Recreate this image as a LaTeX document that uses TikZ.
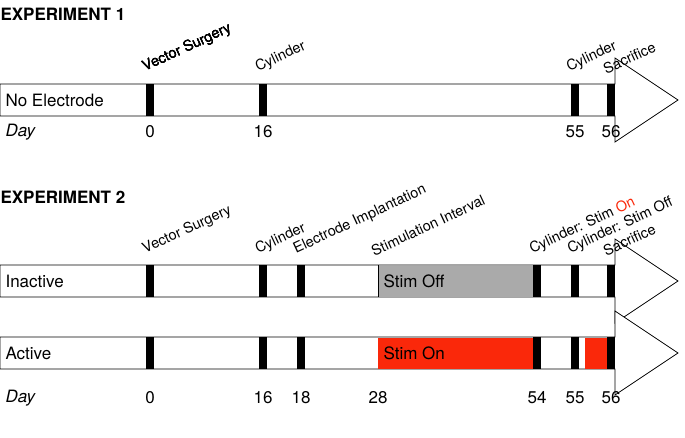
\documentclass[tikz,border=0pt]{standalone}
\usepackage{fontspec}
\setmainfont{TeX Gyre Heros}
\usetikzlibrary{positioning}
\definecolor{stimred}{RGB}{250,40,10}
\definecolor{stimgray}{RGB}{170,170,170}
\tikzset{
	timeline/.style={draw, line width=0.8pt, fill=white},
	tick/.style={fill=black},
	event/.style={rotate=25, anchor=south west, inner sep=1pt, font=\fontsize{14.5}{14.5}\selectfont},
	day/.style={font=\fontsize{17}{17}\selectfont},
	group/.style={anchor=west, font=\fontsize{17}{17}\selectfont},
	title/.style={anchor=west, font=\bfseries\fontsize{17}{17}\selectfont}
}
\newcommand{\arrowbar}[2]{% top y, bottom y
	\draw[timeline] (0,#1) -- (615,#1) -- (615,#1-26) -- (678,{(#1+#2)/2}) -- (615,#2+26) -- (615,#2) -- (0,#2) -- cycle;}
\newcommand{\daytick}[3]{\fill[tick] (#1-4,#2) rectangle (#1+4,#3);}

\begin{document}
\begin{tikzpicture}[x=1pt,y=-1pt]
	\useasboundingbox (0,0) rectangle (685,437);
	% experiment 1
	\node[title] (ttl1) at (-3,14) {EXPERIMENT 1};
	\arrowbar{84}{116}
	\draw[line width=0.8pt] (148,84) -- (148,116);
	\node[group] (noel) at (2,100) {No Electrode};
	\foreach \x in {150,263,575,611} \daytick{\x}{84}{116}
	\node[event] (vs1) at (146,76) {Vector Surgery};
	\node[event] (cy1) at (259,76) {Cylinder};
	\node[event] (cy2) at (570,76) {Cylinder};
	\node[event] (sac1) at (606,76) {Sacrifice};
	\node[day, anchor=west] (day1) at (2,132) {\itshape Day};
	\foreach \x/\d in {150/0,263/16,575/55,611/56}
		\node[day] (da\d) at (\x,132) {\d};
	% experiment 2
	\node[title] (ttl2) at (-3,197) {EXPERIMENT 2};
	\arrowbar{265}{297}
	\arrowbar{337}{369}
	\draw[line width=0.8pt] (148,265) -- (148,297);
	\draw[line width=0.8pt] (148,337) -- (148,369);
	\fill[stimgray] (378,265.5) rectangle (533,296.5);
	\draw[line width=0.8pt] (378,265) -- (378,297);
	\fill[stimred] (378,337.5) rectangle (533,368.5);
	\fill[stimred] (585,337.5) rectangle (607,368.5);
	\node[group] (inac) at (2,281) {Inactive};
	\node[group] (actv) at (2,353) {Active};
	\node[group] (soff) at (380,281) {Stim Off};
	\node[group] (son) at (380,353) {Stim On};
	\foreach \x in {150,263,301,537,575,611} {
		\daytick{\x}{265}{297}
		\daytick{\x}{337}{369}
	}
	\node[event] (vs2) at (146,258) {Vector Surgery};
	\node[event] (cy3) at (259,258) {Cylinder};
	\node[event] (impl) at (297,258) {Electrode Implantation};
	\node[event] (intv) at (374,258) {Stimulation Interval};
	\node[event] (cyon) at (533,258) {Cylinder: Stim \textcolor{stimred}{On}};
	\node[event] (cyoff) at (571,258) {Cylinder: Stim Off};
	\node[event] (sac2) at (606,258) {Sacrifice};
	\node[day, anchor=west] (day2) at (2,398) {\itshape Day};
	\foreach \x/\d in {150/0,263/16,301/18,378/28,537/54,575/55,611/56}
		\node[day] (db\d) at (\x,398) {\d};
\end{tikzpicture}
\end{document}
